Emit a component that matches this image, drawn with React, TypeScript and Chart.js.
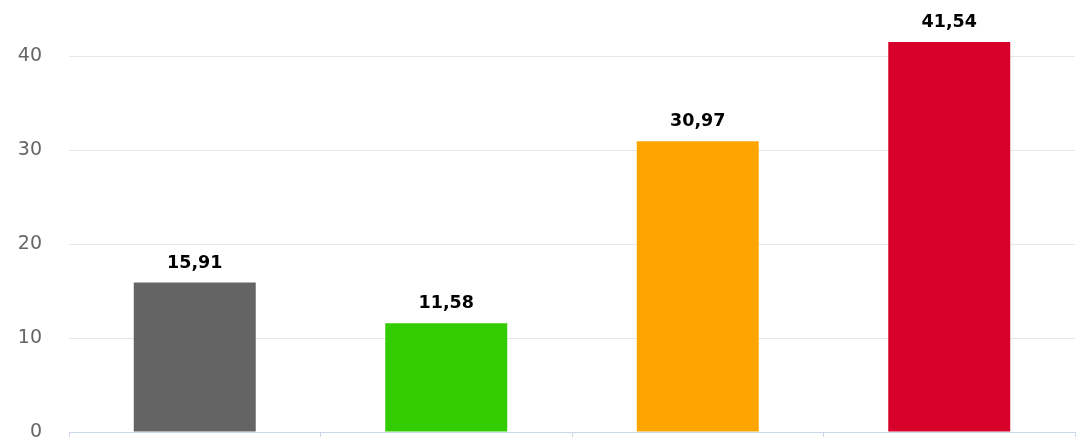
import React, { useEffect, useRef } from "react";
import { Chart, registerables } from "chart.js";

Chart.register(...registerables);

const categories = ["A", "B", "C", "D"];
const values = [15.91, 11.58, 30.97, 41.54];
const valueLabels = ["15,91", "11,58", "30,97", "41,54"];
const barColors = ["#646464", "#33cc00", "#ffa500", "#d6002a"];
const yTicks = [0, 10, 20, 30, 40];

const dataLabelPlugin = {
  id: "dataLabels",
  afterDatasetsDraw(chart: any) {
    const ctx = chart.ctx;
    const meta = chart.getDatasetMeta(0);
    ctx.save();
    ctx.font = "bold 17.5px 'DejaVu Sans'";
    ctx.fillStyle = "#000000";
    ctx.textAlign = "center";
    ctx.textBaseline = "alphabetic";
    meta.data.forEach((bar: any, i: number) => {
      ctx.fillText(valueLabels[i], bar.x, bar.y - 15);
    });
    ctx.restore();
  },
};

export default function App() {
  const ref = useRef<HTMLCanvasElement>(null);
  useEffect(() => {
    if (!ref.current) return;
    const chart = new Chart(ref.current, {
      type: "bar",
      data: {
        labels: categories,
        datasets: [
          {
            data: values,
            backgroundColor: barColors,
            borderWidth: 0,
            barPercentage: 0.485,
            categoryPercentage: 1,
          },
        ],
      },
      options: {
        animation: false,
        responsive: true,
        maintainAspectRatio: false,
        layout: { padding: { top: 0, right: 17, left: 0, bottom: 0 } },
        plugins: { legend: { display: false }, tooltip: { enabled: false } },
        scales: {
          x: {
            grid: {
              offset: true,
              drawOnChartArea: false,
              drawTicks: true,
              tickLength: 5,
              color: "#ccd6eb",
            },
            border: { display: true, color: "#ccd6eb", width: 1 },
            ticks: { display: false },
          },
          y: {
            min: 0,
            max: 46,
            afterBuildTicks: (axis: any) => {
              axis.ticks = yTicks.map((v) => ({ value: v }));
            },
            afterFit: (axis: any) => {
              axis.width = 69;
              axis.paddingTop = 0;
              axis.paddingBottom = 0;
            },
            grid: { color: "#e6e6e6", drawTicks: false, lineWidth: 1 },
            border: { display: false },
            ticks: {
              color: "#666666",
              padding: 27,
              font: { family: "'DejaVu Sans'", size: 19 },
            },
          },
        },
      },
      plugins: [dataLabelPlugin],
    });
    return () => chart.destroy();
  }, []);
  return (
    <div style={{ position: "absolute", left: 0, top: 0, width: 1092, height: 437 }}>
      <canvas ref={ref} />
    </div>
  );
}
